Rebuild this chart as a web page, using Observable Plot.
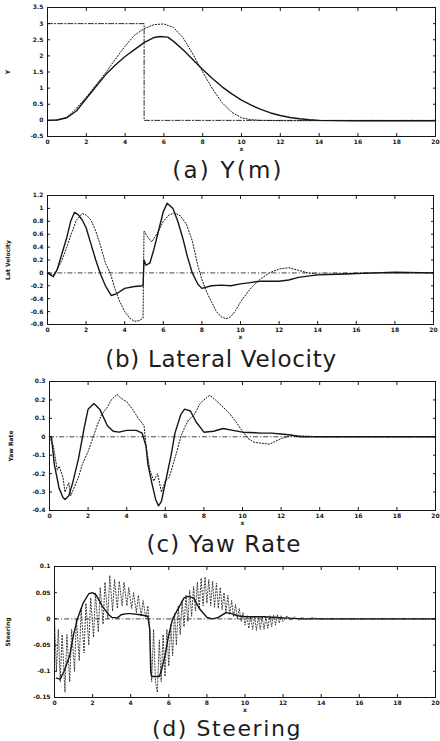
<!DOCTYPE html>
<html><head><meta charset="utf-8">
<script src="https://cdn.jsdelivr.net/npm/d3@7"></script>
<script src="https://cdn.jsdelivr.net/npm/@observablehq/plot@0.6"></script>
<style>
body{margin:0;background:#fff;}
#root{position:relative;width:440px;height:741px;background:#fff;overflow:hidden;}
.ttl{position:absolute;font-family:"DejaVu Sans",sans-serif;color:#1c1c1c;white-space:nowrap;line-height:1;transform:translateX(-50%);}
</style></head><body><div id="root"></div>
<script>
// ---------- shared x axis ----------
const xTicks = [0,2,4,6,8,10,12,14,16,18,20];
const xTickLabels = ["0","2","4","6","8","10","12","14","16","18","20"];

// ---------- (a) Y(m) ----------
const aTicks = [-0.5,0,0.5,1,1.5,2,2.5,3,3.5];
const aTickLabels = ["-0.5","0","0.5","1","1.5","2","2.5","3","3.5"];
const aRefX = [0,4.98,4.98,20];
const aRefY = [3,3,0,0];
const aSolidX = [0,0.5,1,1.5,2,2.5,3,3.5,4,4.5,5,5.5,5.8,6.2,6.5,7,7.5,8,8.5,9,9.5,10,10.5,11,11.5,12,12.5,13,13.5,14,16,18,20];
const aSolidY = [0,0.01,0.08,0.3,0.68,1.05,1.42,1.72,1.98,2.2,2.42,2.57,2.6,2.58,2.45,2.18,1.88,1.58,1.3,1.04,0.82,0.63,0.47,0.34,0.23,0.15,0.09,0.05,0.02,0,-0.01,-0.01,-0.01];
const aDotX = [0,0.5,1,1.5,2,2.5,3,3.5,4,4.5,5,5.5,6,6.5,7,7.5,8,8.5,9,9.5,10,10.5,11,12,14,16,18,20];
const aDotY = [0,0.01,0.1,0.38,0.72,1.1,1.48,1.9,2.3,2.65,2.85,2.97,2.99,2.88,2.55,2.05,1.5,0.98,0.55,0.25,0.08,0.02,0,-0.01,-0.01,-0.01,-0.01,-0.01];

// ---------- (b) Lateral Velocity ----------
const bTicks = [-0.8,-0.6,-0.4,-0.2,0,0.2,0.4,0.6,0.8,1,1.2];
const bTickLabels = ["-0.8","-0.6","-0.4","-0.2","0","0.2","0.4","0.6","0.8","1","1.2"];
const bSolidX = [0,0.15,0.3,0.5,0.75,1,1.2,1.4,1.6,1.8,2,2.25,2.5,2.75,3,3.3,3.6,4,4.5,4.95,5.0,5.1,5.3,5.5,5.75,6,6.2,6.5,6.75,7,7.25,7.5,7.8,8,8.5,9,9.5,10,10.5,11,11.5,12,12.5,13,13.5,14,15,16,17,18,20];
const bSolidY = [0,-0.03,-0.06,0.05,0.3,0.55,0.8,0.94,0.9,0.82,0.7,0.45,0.2,-0.02,-0.2,-0.35,-0.32,-0.24,-0.21,-0.2,0.2,0.12,0.15,0.35,0.65,0.95,1.08,1.0,0.8,0.55,0.25,0.0,-0.18,-0.24,-0.2,-0.19,-0.2,-0.17,-0.15,-0.13,-0.13,-0.13,-0.11,-0.07,-0.05,-0.03,-0.02,-0.01,0,0.01,0];
const bDotX = [0,0.3,0.5,0.75,1,1.25,1.5,1.8,2,2.25,2.5,2.75,3,3.25,3.5,3.75,4,4.25,4.5,4.75,4.95,5.0,5.2,5.4,5.7,6,6.3,6.6,6.9,7.2,7.5,7.8,8,8.25,8.5,8.75,9,9.25,9.5,9.75,10,10.5,11,11.5,12,12.5,13,13.5,14,15,16,17,20];
const bDotY = [0,-0.03,0.05,0.2,0.4,0.62,0.82,0.92,0.9,0.82,0.65,0.42,0.15,0.0,-0.25,-0.45,-0.6,-0.7,-0.75,-0.74,-0.7,0.65,0.55,0.48,0.62,0.8,0.9,0.93,0.88,0.75,0.5,0.1,-0.1,-0.3,-0.45,-0.6,-0.68,-0.71,-0.68,-0.58,-0.45,-0.25,-0.1,0.0,0.06,0.08,0.04,0.0,-0.02,-0.02,-0.01,0,0];

// ---------- (c) Yaw Rate ----------
const cTicks = [-0.4,-0.3,-0.2,-0.1,0,0.1,0.2,0.3];
const cTickLabels = ["-0.4","-0.3","-0.2","-0.1","0","0.1","0.2","0.3"];
const cSolidX = [0,0.1,0.25,0.5,0.7,0.8,1,1.2,1.5,1.8,2,2.3,2.6,3,3.3,3.6,4,4.5,4.8,5,5.1,5.3,5.5,5.65,5.8,6,6.3,6.5,6.8,7,7.3,7.6,8,8.5,9,9.5,10,11,11.5,12,12.5,13,14,20];
const cSolidY = [0,0,-0.15,-0.28,-0.33,-0.34,-0.32,-0.25,-0.12,0.05,0.15,0.18,0.15,0.06,0.03,0.025,0.035,0.035,0.02,-0.05,-0.15,-0.25,-0.34,-0.375,-0.35,-0.25,-0.1,0.02,0.12,0.15,0.14,0.08,0.025,0.03,0.045,0.035,0.025,0.02,0.02,0.015,0.01,0,0,0];
const cDotX = [0,0.2,0.4,0.5,0.7,0.8,1.0,1.1,1.3,1.5,1.7,2.0,2.2,2.5,2.7,3,3.2,3.5,3.7,4,4.3,4.6,4.9,5.0,5.2,5.4,5.6,5.8,6.0,6.2,6.4,6.6,6.8,7,7.2,7.5,7.8,8,8.3,8.6,9,9.3,9.6,10,10.3,10.6,11,11.4,11.8,12,12.5,13,14,20];
const cDotY = [0,-0.05,-0.18,-0.16,-0.22,-0.3,-0.25,-0.32,-0.27,-0.22,-0.15,-0.08,-0.02,0.07,0.12,0.16,0.2,0.23,0.21,0.19,0.15,0.1,0.06,-0.05,-0.18,-0.24,-0.2,-0.3,-0.24,-0.22,-0.15,-0.08,0.0,0.05,0.09,0.12,0.18,0.2,0.225,0.2,0.16,0.13,0.09,0.03,-0.01,-0.03,-0.035,-0.04,-0.02,-0.01,0.005,0.005,0,0];

// ---------- (d) Steering ----------
const dTicks = [-0.15,-0.1,-0.05,0,0.05,0.1];
const dTickLabels = ["-0.15","-0.1","-0.05","0","0.05","0.1"];
const dSolidX = [0.1,0.3,0.5,0.8,1,1.2,1.5,1.8,2,2.2,2.5,2.8,3,3.3,3.5,3.8,4,4.5,4.9,5.0,5.05,5.1,5.5,5.6,5.8,6,6.2,6.5,6.8,7,7.3,7.6,8,8.3,8.6,9,9.3,9.6,10,11,12,13,20];
const dSolidY = [-0.113,-0.115,-0.1,-0.07,-0.03,0,0.03,0.048,0.05,0.045,0.025,0.01,0.003,0.002,0.008,0.01,0.01,0.008,0.005,-0.02,-0.1,-0.11,-0.11,-0.1,-0.07,-0.03,0,0.02,0.04,0.043,0.04,0.02,0.003,0,0.003,0.012,0.01,0.006,0.004,0.004,0.002,0,0];
const dDotX = [0,0.1,0.2,0.3,0.4,0.55,0.65,0.8,0.9,1.05,1.15,1.3,1.4,1.55,1.65,1.8,1.9,2.05,2.15,2.3,2.4,2.55,2.65,2.8,2.9,3.05,3.15,3.3,3.4,3.55,3.65,3.8,3.9,4.05,4.15,4.3,4.4,4.55,4.65,4.8,4.9,5.0,5.1,5.2,5.3,5.4,5.5,5.6,5.7,5.8,5.9,6.0,6.1,6.2,6.3,6.4,6.5,6.6,6.7,6.8,6.9,7.0,7.1,7.2,7.3,7.4,7.5,7.6,7.7,7.8,7.9,8.0,8.1,8.2,8.3,8.4,8.5,8.6,8.7,8.8,8.9,9.0,9.1,9.2,9.3,9.4,9.5,9.6,9.7,9.8,9.9,10.0,10.1,10.2,10.3,10.4,10.5,10.6,10.7,10.8,10.9,11.0,11.1,11.2,11.3,11.4,11.5,11.6,11.7,11.8,11.9,12.0,12.2,12.4,12.6,12.8,13.0,13.2,13.5,14,20];
const dDotY = [0,-0.1,-0.02,-0.12,-0.03,-0.14,-0.03,-0.12,-0.02,-0.1,0.0,-0.08,0.02,-0.065,0.03,-0.05,0.04,-0.035,0.05,-0.025,0.06,-0.01,0.07,0.0,0.083,0.015,0.075,0.02,0.072,0.025,0.07,0.025,0.06,0.02,0.05,0.012,0.045,0.005,0.035,0.0,0.025,-0.02,-0.12,-0.02,-0.12,-0.14,-0.04,-0.12,-0.03,-0.11,-0.02,-0.09,-0.01,-0.07,0.01,-0.05,0.025,-0.03,0.035,-0.015,0.045,-0.005,0.055,0.005,0.062,0.015,0.07,0.02,0.078,0.025,0.08,0.03,0.075,0.025,0.072,0.022,0.068,0.02,0.06,0.018,0.05,0.012,0.045,0.008,0.035,0.004,0.028,0.0,0.02,-0.005,0.012,-0.012,0.006,-0.018,0.005,-0.02,0.005,-0.022,0.004,-0.02,0.005,-0.02,0.004,-0.018,0.006,-0.015,0.007,-0.012,0.008,-0.008,0.006,-0.005,0.006,-0.003,0.004,-0.002,0.003,-0.001,0.002,0,0];

const root = document.getElementById("root");
const INK = "#151515";

function panel(o) {
  const fmtY = d => { const i = o.ticks.findIndex(t => Math.abs(t - d) < 1e-9); return i < 0 ? "" : o.tickLabels[i]; };
  const fmtX = d => { const i = xTicks.indexOf(d); return i < 0 ? "" : xTickLabels[i]; };
  const marks = [];
  if (o.refX) {
    marks.push(Plot.line(o.refX, {x: o.refX, y: o.refY, stroke: INK, strokeWidth: 0.9, strokeDasharray: "5,2,1.2,2"}));
  } else {
    marks.push(Plot.ruleY([0], {stroke: INK, strokeWidth: 0.8, strokeDasharray: "5,2,1.2,2"}));
  }
  marks.push(
    Plot.line(o.dotX, {x: o.dotX, y: o.dotY, stroke: INK, strokeWidth: o.dotW, strokeDasharray: "1.2,1.8"}),
    Plot.line(o.solidX, {x: o.solidX, y: o.solidY, stroke: INK, strokeWidth: 1.4}),
    Plot.frame({stroke: INK, strokeWidth: 1}),
    Plot.axisX({anchor: "bottom", ticks: xTicks, tickFormat: fmtX, tickSize: -3, tickPadding: 6, fontWeight: "bold",
      label: "x", labelAnchor: "center", labelOffset: 14.5, labelArrow: "none"}),
    Plot.axisX({anchor: "top", ticks: xTicks, tickFormat: () => "", tickSize: -3, label: null}),
    Plot.axisY({anchor: "left", ticks: o.ticks, tickFormat: fmtY, tickSize: -3, tickPadding: 7, fontWeight: "bold",
      label: o.yLabel, labelAnchor: "center", labelOffset: o.labelOffset, labelArrow: "none"}),
    Plot.axisY({anchor: "right", ticks: o.ticks, tickFormat: () => "", tickSize: -3, label: null})
  );
  const svg = Plot.plot({
    width: 440, height: o.height,
    marginTop: o.mt, marginBottom: o.mb, marginLeft: o.ml, marginRight: o.mr,
    x: {domain: [0, 20]},
    y: {domain: o.domain},
    style: {position: "absolute", top: o.top + "px", left: "0px", background: "transparent",
      fontFamily: "'DejaVu Sans', sans-serif", fontSize: "6px", color: INK},
    marks
  });
  root.appendChild(svg);
  const t = document.createElement("div");
  t.className = "ttl";
  t.textContent = o.title;
  t.style.left = o.tx + "px";
  t.style.top = o.ty + "px";
  t.style.fontSize = o.tfs + "px";
  t.style.letterSpacing = o.tls + "px";
  root.appendChild(t);
}

panel({top: 0, height: 156, mt: 7, mb: 20, ml: 47, mr: 5, domain: [-0.5, 3.5], ticks: aTicks, tickLabels: aTickLabels,
  yLabel: "Y", labelOffset: 42, refX: aRefX, refY: aRefY, solidX: aSolidX, solidY: aSolidY, dotX: aDotX, dotY: aDotY, dotW: 1,
  title: "(a) Y(m)", tx: 228, ty: 158.5, tfs: 23, tls: 2.2});
panel({top: 186, height: 158, mt: 9, mb: 20, ml: 47, mr: 7, domain: [-0.8, 1.2], ticks: bTicks, tickLabels: bTickLabels,
  yLabel: "Lat Velocity", labelOffset: 42, solidX: bSolidX, solidY: bSolidY, dotX: bDotX, dotY: bDotY, dotW: 1,
  title: "(b) Lateral Velocity", tx: 221, ty: 348, tfs: 23, tls: 0.7});
panel({top: 372, height: 158, mt: 9, mb: 20, ml: 49, mr: 5, domain: [-0.4, 0.3], ticks: cTicks, tickLabels: cTickLabels,
  yLabel: "Yaw Rate", labelOffset: 41, solidX: cSolidX, solidY: cSolidY, dotX: cDotX, dotY: cDotY, dotW: 1,
  title: "(c) Yaw Rate", tx: 224, ty: 533, tfs: 23, tls: 1.1});
panel({top: 557, height: 160, mt: 9, mb: 20, ml: 54, mr: 5, domain: [-0.15, 0.1], ticks: dTicks, tickLabels: dTickLabels,
  yLabel: "Steering", labelOffset: 49, solidX: dSolidX, solidY: dSolidY, dotX: dDotX, dotY: dDotY, dotW: 0.8,
  title: "(d) Steering", tx: 227, ty: 718, tfs: 22, tls: 1.6});
</script>
</body></html>
